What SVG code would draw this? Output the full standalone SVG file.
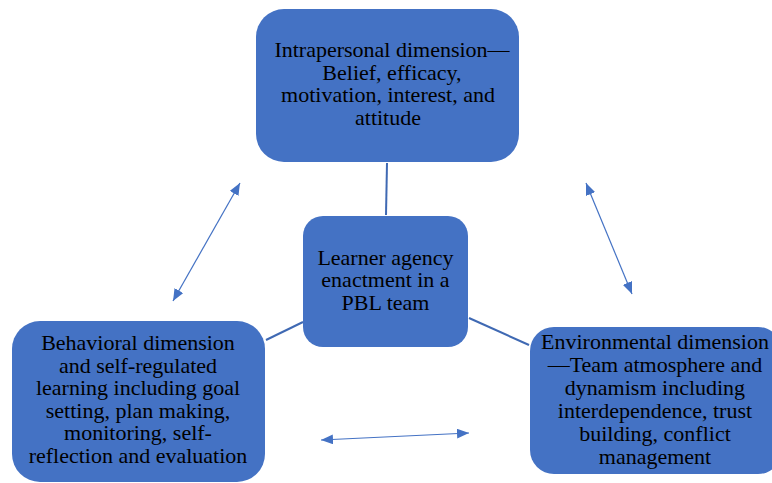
<svg xmlns="http://www.w3.org/2000/svg" width="772" height="483" viewBox="0 0 772 483">
<defs>
<style>
.box{fill:#4472C4;}
.t{font-family:"Liberation Serif","Times New Roman",serif;font-size:22px;fill:#000;text-anchor:middle;}
.conn{stroke:#3F69B3;stroke-width:2;fill:none;}
.arr{stroke:#4472C4;stroke-width:1.2;fill:none;marker-start:url(#ah);marker-end:url(#ah);}
</style>
<marker id="ah" viewBox="0 0 12 10" refX="12" refY="5" markerWidth="12" markerHeight="10" markerUnits="userSpaceOnUse" orient="auto-start-reverse">
<path d="M0,0 L12,5 L0,10 z" fill="#4472C4"/>
</marker>
</defs>
<rect width="772" height="483" fill="#fff"/>
<g id="connectors">
<line class="conn" x1="387" y1="163" x2="386" y2="215"/>
<line class="conn" x1="303" y1="322" x2="266" y2="340"/>
<line class="conn" x1="469" y1="318" x2="529" y2="345"/>
<line class="arr" x1="173" y1="301" x2="240" y2="183"/>
<line class="arr" x1="586" y1="183" x2="632" y2="294"/>
<line class="arr" x1="321" y1="440" x2="469" y2="433"/>
</g>
<g id="intrapersonal">
<rect class="box" x="256" y="9" width="263" height="153" rx="28"/>
<text class="t"><tspan x="392" y="57">Intrapersonal dimension—</tspan><tspan x="392" y="80">Belief, efficacy,</tspan><tspan x="388" y="102">motivation, interest, and</tspan><tspan x="388" y="125">attitude</tspan></text>
</g>
<g id="center">
<rect class="box" x="303" y="216" width="165" height="131" rx="20"/>
<text class="t"><tspan x="385.5" y="265">Learner agency</tspan><tspan x="385.5" y="287">enactment in a</tspan><tspan x="385.5" y="310">PBL team</tspan></text>
</g>
<g id="behavioral">
<rect class="box" x="12" y="321" width="253" height="161" rx="28"/>
<text class="t"><tspan x="138" y="350">Behavioral dimension</tspan><tspan x="138" y="373">and self-regulated</tspan><tspan x="138" y="395">learning including goal</tspan><tspan x="138" y="418">setting, plan making,</tspan><tspan x="138" y="440">monitoring, self-</tspan><tspan x="138" y="463">reflection and evaluation</tspan></text>
</g>
<g id="environmental">
<rect class="box" x="530" y="327" width="252" height="147" rx="24"/>
<text class="t"><tspan x="655" y="349">Environmental dimension</tspan><tspan x="655" y="372">—Team atmosphere and</tspan><tspan x="655" y="395">dynamism including</tspan><tspan x="655" y="418">interdependence, trust</tspan><tspan x="655" y="441">building, conflict</tspan><tspan x="655" y="464">management</tspan></text>
</g>
</svg>
